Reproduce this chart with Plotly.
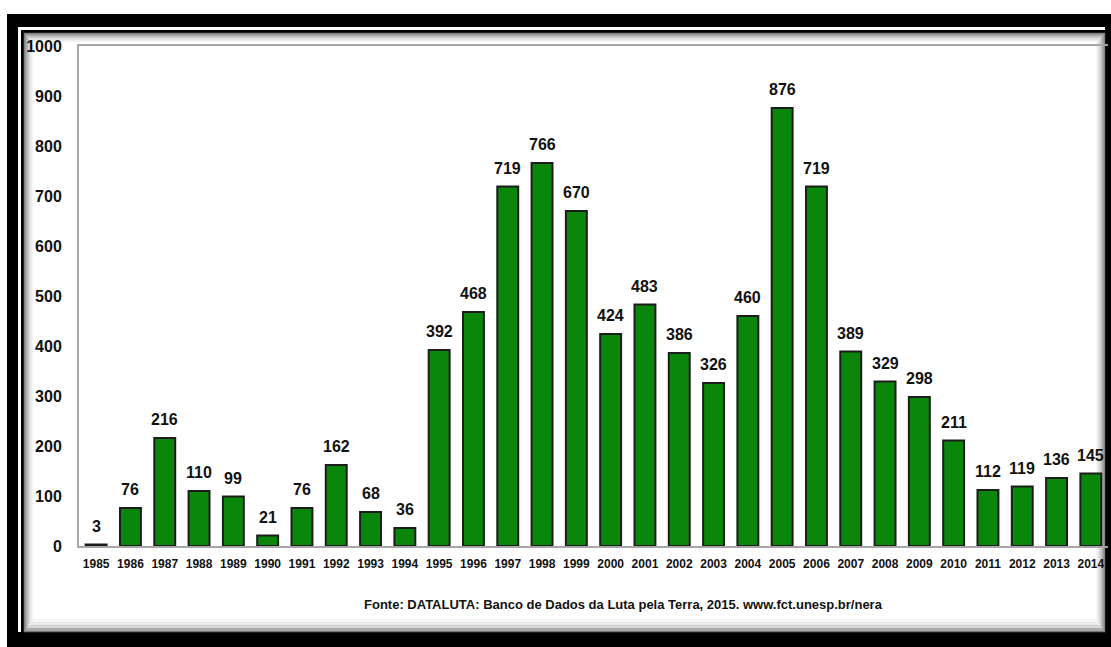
import plotly.graph_objects as go

years = [str(y) for y in range(1985, 2015)]
values = [3, 76, 216, 110, 99, 21, 76, 162, 68, 36, 392, 468, 719, 766, 670,
          424, 483, 386, 326, 460, 876, 719, 389, 329, 298, 211, 112, 119, 136, 145]
y_ticks = list(range(0, 1001, 100))
source_text = "Fonte: DATALUTA: Banco de Dados da Luta pela Terra, 2015. www.fct.unesp.br/nera"

W, H = 1111, 647
L, R, T, B = 79, 3, 46, 101
PW = W - L - R
PH = H - T - B

def px(x):
    return (x - L) / PW

def py(y):
    return (H - B - y) / PH

FONT = "Liberation Sans, Arial, sans-serif"

fig = go.Figure()
fig.add_trace(go.Bar(
    x=list(range(len(years))), y=values,
    marker=dict(color="#0a870a", line=dict(color="#1c1c1c", width=2)),
    hovertext=years, hoverinfo="text+y",
))

shapes = []
# outer black frame
shapes.append(dict(type="rect", xref="paper", yref="paper", layer="below",
                   x0=px(7), x1=px(1130), y0=py(14), y1=py(670),
                   fillcolor="black", line=dict(width=0)))
# white gap between the outer frame and the inner line
shapes.append(dict(type="rect", xref="paper", yref="paper", layer="below",
                   x0=px(18), x1=px(1105), y0=py(27), y1=py(632),
                   fillcolor="white", line=dict(width=0)))
# inner black line (left and top visible; right/bottom merge with the frame)
shapes.append(dict(type="rect", xref="paper", yref="paper", layer="below",
                   x0=px(22.5), x1=px(1125), y0=py(31.5), y1=py(665),
                   fillcolor="rgba(0,0,0,0)", line=dict(color="black", width=3)))
# inner shadow gradient
grays = ["#7a7a7a", "#949494", "#aaaaaa", "#bdbdbd", "#cdcdcd", "#dadada", "#e5e5e5", "#eeeeee", "#f5f5f5"]
for i, g in enumerate(grays):
    x0 = 24.5 + i
    y0 = 33.5 + i
    x1 = 1104.5 - i
    y1 = 631.5 - i * 1.5
    shapes.append(dict(type="rect", xref="paper", yref="paper", layer="below",
                       x0=px(x0), x1=px(x1), y0=py(y0), y1=py(y1),
                       fillcolor="rgba(0,0,0,0)", line=dict(color=g, width=1.5 if i < 3 else 1)))

annotations = []
for i, v in enumerate(values):
    annotations.append(dict(x=i, y=v, xref="x", yref="y", text=str(v),
                            showarrow=False, yanchor="bottom", yshift=8,
                            font=dict(family=FONT, size=16, color="#111111", weight="bold")))
annotations.append(dict(x=px(623), y=py(605), xref="paper", yref="paper",
                        text=source_text, showarrow=False,
                        xanchor="center", yanchor="middle",
                        font=dict(family=FONT, size=13, color="#111111", weight="bold")))

fig.update_layout(
    width=W, height=H,
    margin=dict(l=L, r=R, t=T, b=B, autoexpand=False),
    paper_bgcolor="white",
    plot_bgcolor="rgba(0,0,0,0)",
    showlegend=False,
    bargap=0.39,
    shapes=shapes,
    annotations=annotations,
    xaxis=dict(range=[-0.5, 29.5], showgrid=False, zeroline=False,
               tickvals=list(range(len(years))), ticktext=years,
               showline=True, linecolor="#a6a6a6", linewidth=2, mirror=True,
               ticks="", tickfont=dict(family=FONT, size=12, color="#111111", weight="bold"),
               ticklabelstandoff=6, fixedrange=True),
    yaxis=dict(range=[0, 1000], tickvals=y_ticks, showgrid=False, zeroline=False,
               showline=True, linecolor="#a6a6a6", linewidth=2,
               ticks="", tickfont=dict(family=FONT, size=16, color="#111111", weight="bold"),
               ticklabelstandoff=12, fixedrange=True),
)

fig.write_html("out.html", config={"displayModeBar": False},
               post_script="document.body.style.margin='0';document.body.style.overflow='hidden';")
